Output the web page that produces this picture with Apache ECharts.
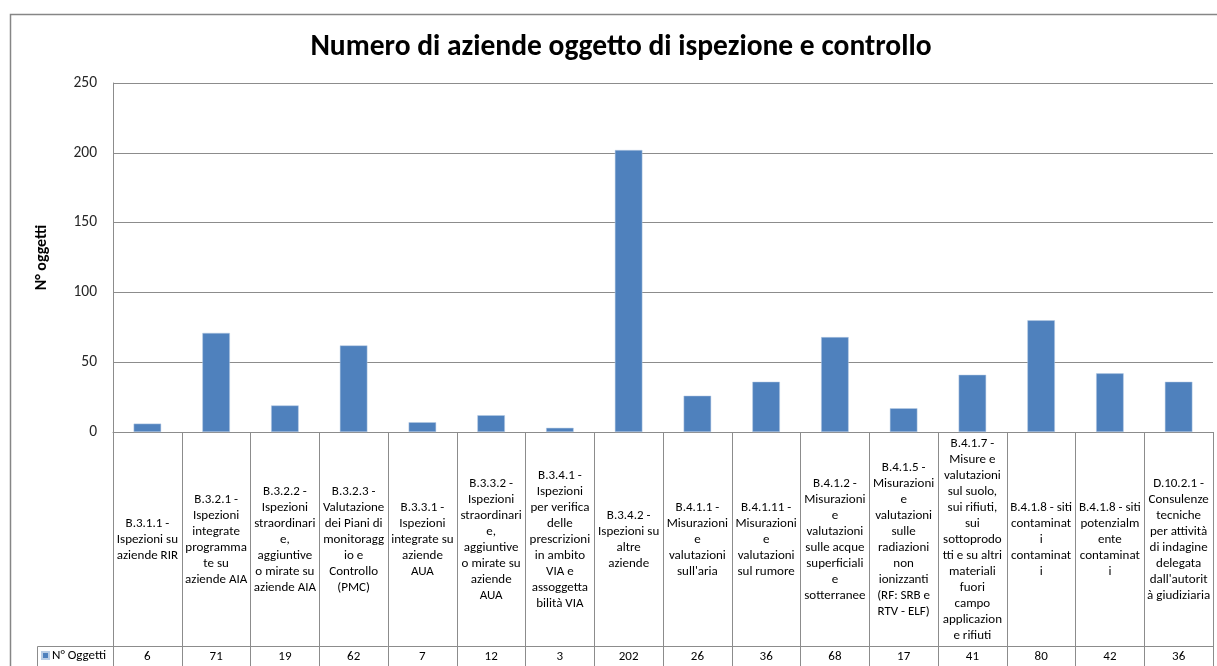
<!DOCTYPE html>
<html>
<head>
<meta charset="utf-8">
<script src="https://cdn.jsdelivr.net/npm/echarts@6/dist/echarts.min.js"></script>
<style>
html,body{margin:0;padding:0;background:#fff;}
#c{width:1217px;height:666px;}
</style>
</head>
<body>
<div id="c"></div>
<script>
const titleText = "Numero di aziende oggetto di ispezione e controllo";
const yAxisName = "N° oggetti";
const seriesName = "N° Oggetti";
const categories = [
  "B.3.1.1 -\nIspezioni su\naziende RIR",
  "B.3.2.1 -\nIspezioni\nintegrate\nprogramma\nte su\naziende AIA",
  "B.3.2.2 -\nIspezioni\nstraordinari\ne,\naggiuntive\no mirate su\naziende AIA",
  "B.3.2.3 -\nValutazione\ndei Piani di\nmonitoragg\nio e\nControllo\n(PMC)",
  "B.3.3.1 -\nIspezioni\nintegrate su\naziende\nAUA",
  "B.3.3.2 -\nIspezioni\nstraordinari\ne,\naggiuntive\no mirate su\naziende\nAUA",
  "B.3.4.1 -\nIspezioni\nper verifica\ndelle\nprescrizioni\nin ambito\nVIA e\nassoggetta\nbilità VIA",
  "B.3.4.2 -\nIspezioni su\naltre\naziende",
  "B.4.1.1 -\nMisurazioni\ne\nvalutazioni\nsull'aria",
  "B.4.1.11 -\nMisurazioni\ne\nvalutazioni\nsul rumore",
  "B.4.1.2 -\nMisurazioni\ne\nvalutazioni\nsulle acque\nsuperficiali\ne\nsotterranee",
  "B.4.1.5 -\nMisurazioni\ne\nvalutazioni\nsulle\nradiazioni\nnon\nionizzanti\n(RF: SRB e\nRTV - ELF)",
  "B.4.1.7 -\nMisure e\nvalutazioni\nsul suolo,\nsui rifiuti,\nsui\nsottoprodo\ntti e su altri\nmateriali\nfuori\ncampo\napplicazion\ne rifiuti",
  "B.4.1.8 - siti\ncontaminat\ni\ncontaminat\ni",
  "B.4.1.8 - siti\npotenzialm\nente\ncontaminat\ni",
  "D.10.2.1 -\nConsulenze\ntecniche\nper attività\ndi indagine\ndelegata\ndall'autorit\nà giudiziaria"
];
const values = [6, 71, 19, 62, 7, 12, 3, 202, 26, 36, 68, 17, 41, 80, 42, 36];
const yMin = 0, yMax = 250, yInterval = 50;

const FONT = "Carlito, Lato, 'Liberation Sans', sans-serif";
const GRID_COLOR = "#8c8c8c";
const BAR_COLOR = "#4f81bd";

const chart = echarts.init(document.getElementById('c'), null, {renderer: 'canvas'});
const option = {
  animation: false,
  backgroundColor: '#fff',
  title: {
    text: titleText,
    left: 616,
    top: 28,
    textAlign: 'center',
    textStyle: {fontFamily: FONT, fontSize: 29.5, fontWeight: 'bold', color: '#000'}
  },
  legend: {
    left: 41,
    top: 649,
    icon: 'rect',
    itemWidth: 7,
    itemHeight: 7,
    itemGap: 4,
    padding: 0,
    textStyle: {fontFamily: FONT, fontSize: 13, color: '#000', padding: [0,0,0,-2]},
    data: [seriesName]
  },
  grid: {left: 113, right: 4, top: 83, bottom: 234, containLabel: false},
  xAxis: [
    {
      type: 'category',
      data: categories,
      position: 'bottom',
      boundaryGap: true,
      axisLine: {show: true, lineStyle: {color: GRID_COLOR, width: 1}},
      axisTick: {show: true, length: 240, lineStyle: {color: GRID_COLOR, width: 1}},
      splitLine: {show: false},
      axisLabel: {
        interval: 0,
        margin: 108,
        verticalAlign: 'middle',
        align: 'center',
        fontFamily: FONT,
        fontSize: 13,
        lineHeight: 16,
        color: '#000'
      }
    },
    {
      type: 'category',
      data: values.map(v => String(v)),
      position: 'bottom',
      offset: 214,
      boundaryGap: true,
      axisLine: {show: true, lineStyle: {color: GRID_COLOR, width: 1}},
      axisTick: {show: false},
      splitLine: {show: false},
      axisLabel: {
        interval: 0,
        margin: 4,
        fontFamily: FONT,
        fontSize: 13,
        color: '#000'
      }
    }
  ],
  yAxis: {
    type: 'value',
    min: yMin,
    max: yMax,
    interval: yInterval,
    name: yAxisName,
    nameLocation: 'middle',
    nameGap: 63,
    nameRotate: 90,
    nameTextStyle: {fontFamily: FONT, fontSize: 16, fontWeight: 'bold', color: '#000'},
    axisLine: {show: true, lineStyle: {color: GRID_COLOR, width: 1}},
    axisTick: {show: false},
    splitLine: {show: true, lineStyle: {color: GRID_COLOR, width: 1}},
    axisLabel: {fontFamily: FONT, fontSize: 15.5, color: '#262626', margin: 16}
  },
  series: [{
    name: seriesName,
    type: 'bar',
    xAxisIndex: 0,
    data: values,
    barWidth: '40%',
    itemStyle: {color: BAR_COLOR, borderColor: '#b9cde5', borderWidth: 0.5}
  }],
  graphic: [
    {type: 'rect', shape: {x: 10.5, y: 14.5, width: 1220, height: 700}, style: {fill: 'none', stroke: '#868686', lineWidth: 1.5}, silent: true, z: 0},
    {type: 'line', shape: {x1: 37.5, y1: 646.5, x2: 113.5, y2: 646.5}, style: {stroke: GRID_COLOR, lineWidth: 1}, silent: true},
    {type: 'line', shape: {x1: 37.5, y1: 646.5, x2: 37.5, y2: 670}, style: {stroke: GRID_COLOR, lineWidth: 1}, silent: true}
  ]
};
chart.setOption(option);
</script>
</body>
</html>
